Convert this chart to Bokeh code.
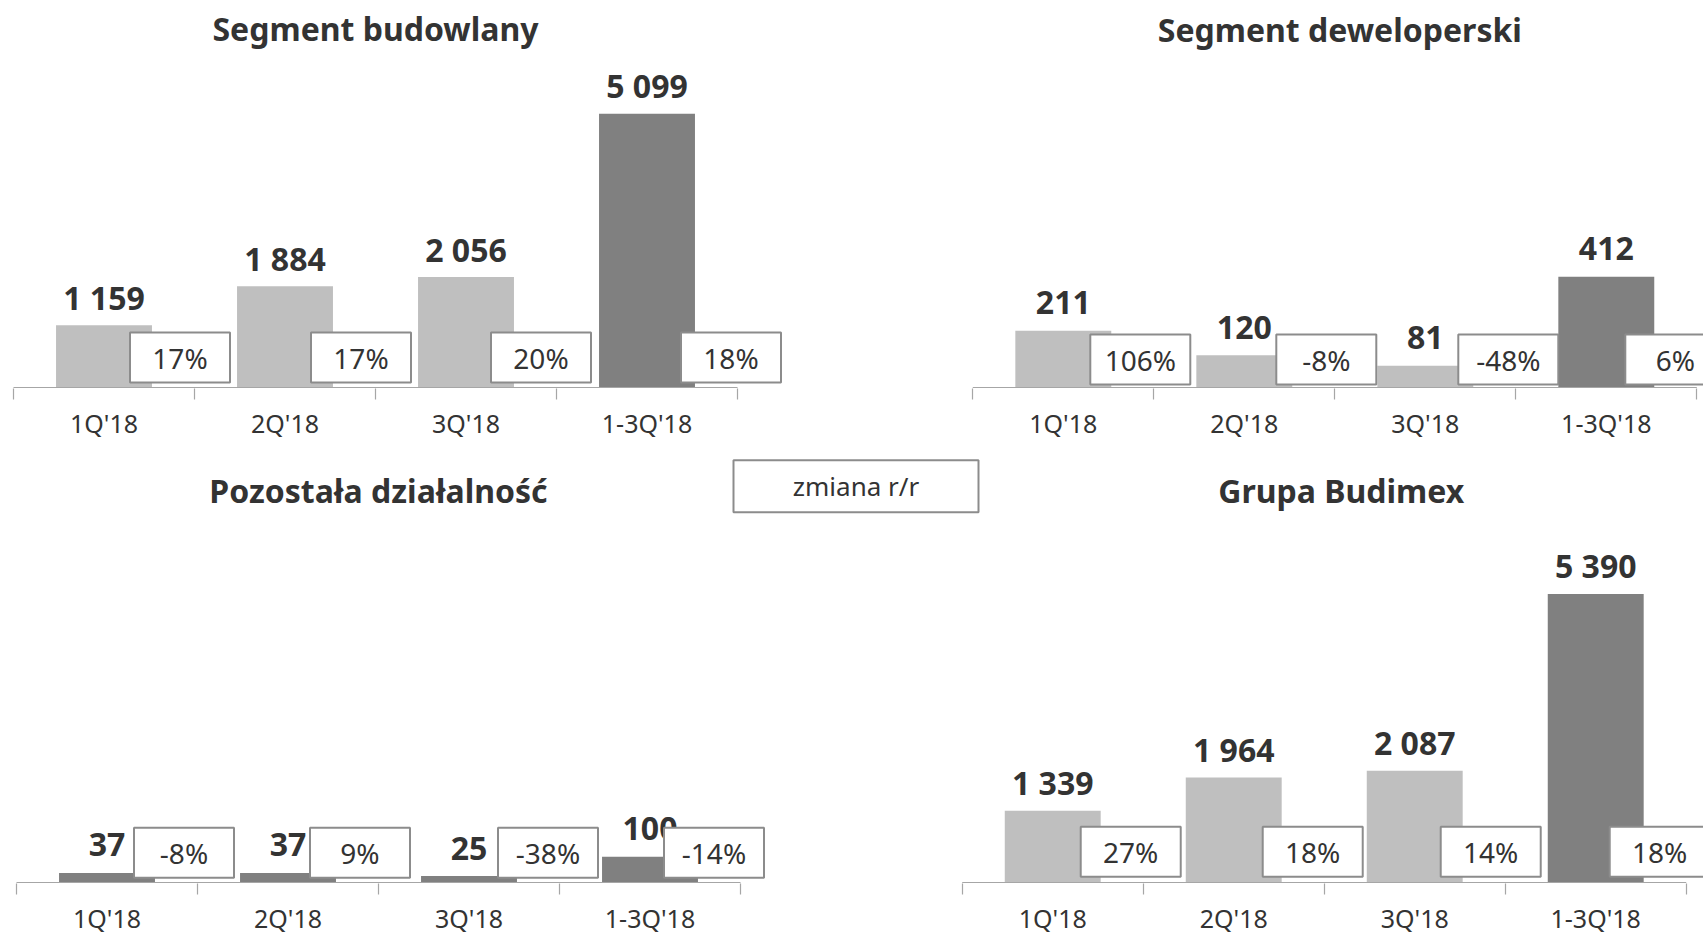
from bokeh.plotting import figure
from bokeh.layouts import column
from bokeh.models import Range1d, FixedTicker
from bokeh.embed import file_html
from bokeh.resources import INLINE
from bokeh.core.properties import value

# ---------------- data ----------------
categories = ["1Q'18", "2Q'18", "3Q'18", "1-3Q'18"]

title_budowlany = "Segment budowlany"
budowlany = [1159, 1884, 2056, 5099]
budowlany_rr = ["17%", "17%", "20%", "18%"]

title_deweloperski = "Segment deweloperski"
deweloperski = [211, 120, 81, 412]
deweloperski_rr = ["106%", "-8%", "-48%", "6%"]

title_pozostala = "Pozostała działalność"
pozostala = [37, 37, 25, 100]
pozostala_rr = ["-8%", "9%", "-38%", "-14%"]

title_grupa = "Grupa Budimex"
grupa = [1339, 1964, 2087, 5390]
grupa_rr = ["27%", "18%", "14%", "18%"]

legend_label = "zmiana r/r"

# ---------------- style ----------------
W = 1703
SX = 181.0          # px per category
LIGHT = "#BFBFBF"
DARK = "#808080"
TXT = "#333333"
BOX_LINE = "#8c8c8c"
AXIS_LINE = "#a6a6a6"
FONT = "Noto Sans"


def fmt(v):
    return f"{v:,}".replace(",", " ")


def make_row(H, AX, x0, roff, panels, legend=None):
    p = figure(width=W, height=H, output_backend="svg", toolbar_location=None,
               x_range=Range1d(-x0 / SX, (W - x0) / SX),
               y_axis_location=None,
               min_border_left=0, min_border_right=0, min_border_top=0,
               min_border_bottom=H - AX - 1)
    p.outline_line_color = None
    p.xgrid.visible = False
    p.ygrid.visible = False
    p.background_fill_color = "white"
    p.border_fill_color = "white"

    n = len(categories)
    ticks, minor, overrides = [], [], {}
    for k, pan in enumerate(panels):
        off = 0.0 if k == 0 else roff
        ky = pan["ky"]
        rn = "default"
        if k == 0:
            p.y_range = Range1d(-1.0 / ky, AX / ky)
        else:
            rn = "r"
            p.extra_y_ranges = {"r": Range1d(-1.0 / ky, AX / ky)}
        xs = [off + i + 0.5 for i in range(n)]
        for i in range(n):
            ticks.append(xs[i])
            overrides[xs[i]] = categories[i]
        minor.extend([off + i for i in range(n + 1)])

        vals = pan["values"]
        p.vbar(x=xs, top=vals, width=0.53, fill_color=pan["colors"], line_color=None,
               y_range_name=rn)
        p.segment(x0=[off], x1=[off + n], y0=[0], y1=[0], line_color=AXIS_LINE,
                  line_width=1.2, y_range_name=rn)
        p.text(x=xs, y=vals, text=[fmt(v) for v in vals], y_range_name=rn,
               text_align="center", text_baseline="middle", y_offset=-28,
               text_font=value(FONT), text_font_style="bold", text_font_size="32px",
               text_color=TXT)
        bx = [x + o / SX for x, o in zip(xs, pan["box_off"])]
        by = [pan["box_up"] / ky] * n
        p.rect(x=bx, y=by, width=100, height=50, width_units="screen", height_units="screen",
               fill_color="white", line_color=BOX_LINE, line_width=2, y_range_name=rn)
        p.text(x=bx, y=by, text=pan["rr"], y_range_name=rn,
               text_align="center", text_baseline="middle",
               text_font=value(FONT), text_font_size="28px", text_color=TXT)
        p.text(x=[off + n / 2.0 + pan["title_dx"] / SX], y=[(AX - pan["title_mid"]) / ky],
               text=[pan["title"]], y_range_name=rn,
               text_align="center", text_baseline="middle",
               text_font=value(FONT), text_font_style="bold", text_font_size="32px",
               text_color=TXT)

    if legend is not None:
        ky = panels[0]["ky"]
        lx = [(legend["cx"] - x0) / SX]
        ly = [(AX - legend["cy"]) / ky]
        p.rect(x=lx, y=ly, width=legend["w"], height=legend["h"], width_units="screen",
               height_units="screen", fill_color="white", line_color=BOX_LINE, line_width=2)
        p.text(x=lx, y=ly, text=[legend_label], text_align="center", text_baseline="middle",
               text_font=value(FONT), text_font_size="26px", text_color=TXT)

    ax = p.xaxis[0]
    ax.ticker = FixedTicker(ticks=ticks, minor_ticks=minor)
    ax.major_label_overrides = overrides
    ax.axis_line_color = None
    ax.major_tick_line_color = None
    ax.major_tick_out = 0
    ax.major_tick_in = 0
    ax.minor_tick_line_color = AXIS_LINE
    ax.minor_tick_line_width = 1.2
    ax.minor_tick_out = 11
    ax.minor_tick_in = 0
    ax.major_label_standoff = 6
    ax.major_label_text_font = FONT
    ax.major_label_text_font_size = "25px"
    ax.major_label_text_color = TXT
    return p


top = make_row(
    H=450, AX=387, x0=13, roff=5.3,
    panels=[
        dict(values=budowlany, rr=budowlany_rr, title=title_budowlany, ky=0.0537,
             colors=[LIGHT, LIGHT, LIGHT, DARK], box_off=[76, 76, 75, 84], box_up=30,
             title_mid=28, title_dx=0),
        dict(values=deweloperski, rr=deweloperski_rr, title=title_deweloperski, ky=0.269,
             colors=[LIGHT, LIGHT, LIGHT, DARK], box_off=[77, 82, 83, 69], box_up=28,
             title_mid=29, title_dx=5),
    ])

bottom = make_row(
    H=487, AX=435, x0=16, roff=5.225,
    panels=[
        dict(values=pozostala, rr=pozostala_rr, title=title_pozostala, ky=0.26,
             colors=[DARK, DARK, DARK, DARK], box_off=[77, 72, 79, 64], box_up=30,
             title_mid=40, title_dx=0),
        dict(values=grupa, rr=grupa_rr, title=title_grupa, ky=0.0539,
             colors=[LIGHT, LIGHT, LIGHT, DARK], box_off=[78, 79, 76, 64], box_up=31,
             title_mid=40, title_dx=17),
    ],
    legend=dict(cx=855.5, cy=36, w=245, h=52))

layout = column(top, bottom, spacing=0)
open("out.html", "w").write(file_html(layout, INLINE))
